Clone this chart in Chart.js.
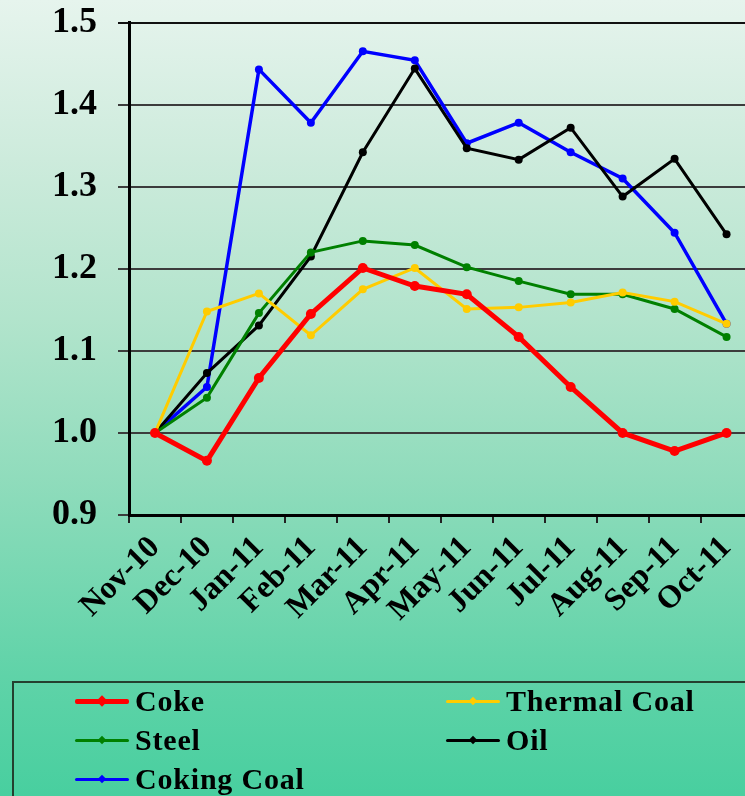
<!DOCTYPE html>
<html>
<head>
<meta charset="utf-8">
<script src="https://cdn.jsdelivr.net/npm/chart.js@4/dist/chart.umd.min.js"></script>
<style>
  html, body { margin: 0; padding: 0; overflow: hidden; width: 745px; height: 796px; }
  #wrap {
    position: relative; width: 745px; height: 796px; overflow: hidden;
    background: linear-gradient(to bottom, #e6f4ed 0%, #cdebdc 20%, #b2e4cc 40%, #90dcbc 60%, #5fd3a8 85%, #48cf9f 100%);
  }
  #c { position: absolute; left: 0; top: -20px; }
  #legend {
    position: absolute; left: 12px; top: 681px; width: 760px; height: 140px;
    border: 2px solid #24402f; box-sizing: border-box;
  }
  .item { position: absolute; height: 36px; }
  .swatch { position: absolute; top: 50%; }
  .mark { position: absolute; top: 50%; transform: translate(-50%, -50%) rotate(45deg); }
  .txt {
    position: absolute; top: 50%; transform: translateY(-50%);
    font: bold 30px "Liberation Serif", "Times New Roman", serif; letter-spacing: 0.8px;
    color: #000; white-space: nowrap;
  }
</style>
</head>
<body>
<div id="wrap">
  <canvas id="c" width="760" height="816" style="width:760px;height:816px"></canvas>
  <div id="legend"></div>
</div>
<script>
// Monthly price index (Nov-10 = 1.0)
const months = ['Nov-10', 'Dec-10', 'Jan-11', 'Feb-11', 'Mar-11', 'Apr-11',
                'May-11', 'Jun-11', 'Jul-11', 'Aug-11', 'Sep-11', 'Oct-11'];
const coke        = [1.000, 0.966, 1.067, 1.145, 1.201, 1.179, 1.169, 1.117, 1.056, 1.000, 0.978, 1.000];
const thermalCoal = [1.000, 1.148, 1.170, 1.119, 1.175, 1.201, 1.151, 1.153, 1.159, 1.171, 1.160, 1.133];
const steel       = [1.000, 1.043, 1.146, 1.220, 1.234, 1.229, 1.202, 1.185, 1.169, 1.169, 1.151, 1.117];
const oil         = [1.000, 1.073, 1.131, 1.215, 1.342, 1.444, 1.347, 1.333, 1.372, 1.288, 1.334, 1.242];
const cokingCoal  = [1.000, 1.056, 1.443, 1.378, 1.465, 1.454, 1.353, 1.378, 1.342, 1.310, 1.244, 1.133];
const yTicks = [0.9, 1.0, 1.1, 1.2, 1.3, 1.4, 1.5];

const serif = '"Liberation Serif", "Times New Roman", serif';

function series(label, data, color, width, radius) {
  return {
    label, data,
    borderColor: color, backgroundColor: color,
    borderWidth: width, pointRadius: radius, pointHoverRadius: radius,
    pointStyle: 'circle', pointBorderWidth: 0, tension: 0
  };
}

const datasets = [
  series('Coke', coke, '#ff0000', 5, 5),
  series('Thermal Coal', thermalCoal, '#ffcc00', 3, 4),
  series('Steel', steel, '#008000', 3, 4),
  series('Oil', oil, '#000000', 3, 4),
  series('Coking Coal', cokingCoal, '#0000ff', 3.5, 4)
];

// canvas is shifted up 20px inside the frame, so the plot bottom sits at 535 in canvas space
const PLOT_BOTTOM = 535, AXIS_LEFT = 129, CANVAS_H = 816;

new Chart(document.getElementById('c'), {
  type: 'line',
  data: { labels: months, datasets },
  options: {
    responsive: false,
    animation: false,
    events: [],
    layout: { padding: { top: 1, right: 7, left: 0, bottom: 0 } },
    plugins: { legend: { display: false }, tooltip: { enabled: false } },
    scales: {
      y: {
        min: yTicks[0], max: yTicks[yTicks.length - 1],
        afterBuildTicks: s => { s.ticks = yTicks.map(v => ({ value: v })); },
        afterFit: s => { s.width = AXIS_LEFT; },
        ticks: {
          color: '#000', padding: 21,
          font: { family: serif, size: 36, weight: 'bold' },
          callback: v => Number(v).toFixed(1)
        },
        grid: {
          color: ctx => (ctx.tick && ctx.tick.value === 1.5) ? '#111' : '#3c3c3c',
          lineWidth: 2, tickLength: 11
        },
        border: { color: '#000', width: 3 }
      },
      x: {
        offset: true,
        afterFit: s => { s.height = CANVAS_H - PLOT_BOTTOM; },
        ticks: {
          color: '#000', maxRotation: 45, minRotation: 45, padding: 6,
          autoSkip: false,
          font: { family: serif, size: 32, weight: 'bold' }
        },
        grid: { drawOnChartArea: false, color: '#222', lineWidth: 2, tickLength: 8, offset: true },
        border: { color: '#000', width: 3 }
      }
    }
  }
});

// Legend laid out in two columns, built from the datasets
const legend = document.getElementById('legend');
const slots = [
  { col: 0, row: 0 }, { col: 1, row: 0 },
  { col: 0, row: 1 }, { col: 1, row: 1 },
  { col: 0, row: 2 }
];
const colX = [61, 432];          // swatch start relative to box
const rowY = [18, 57, 96];       // row centres relative to box
datasets.forEach((d, i) => {
  const s = slots[i];
  const item = document.createElement('div');
  item.className = 'item';
  item.style.left = colX[s.col] + 'px';
  item.style.top = (rowY[s.row] - 18) + 'px';
  const lw = d.borderWidth >= 5 ? 5 : 3;
  const sw = document.createElement('div');
  sw.className = 'swatch';
  sw.style.cssText = `left:0;width:54px;height:${lw}px;margin-top:${-lw / 2}px;background:${d.borderColor};border-radius:2px;`;
  const mk = document.createElement('div');
  mk.className = 'mark';
  const ms = d.borderWidth >= 5 ? 8 : 6;
  mk.style.cssText += `left:27px;width:${ms}px;height:${ms}px;background:${d.borderColor};`;
  const tx = document.createElement('div');
  tx.className = 'txt';
  tx.style.left = '60px';
  tx.textContent = d.label;
  item.appendChild(sw); item.appendChild(mk); item.appendChild(tx);
  legend.appendChild(item);
});
</script>
</body>
</html>
